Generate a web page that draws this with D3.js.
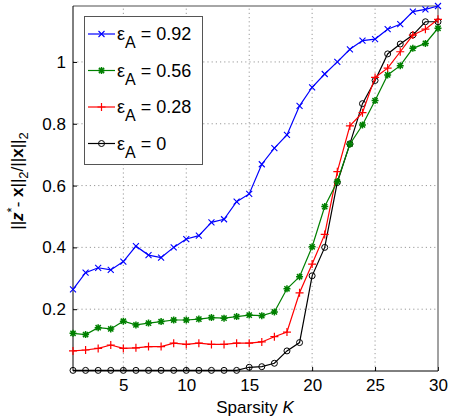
<!DOCTYPE html>
<html>
<head>
<meta charset="utf-8">
<script src="https://cdn.jsdelivr.net/npm/d3@7"></script>
<style>
  body { margin: 0; background: #fff; }
  svg { display: block; font-family: "Liberation Sans", Arial, sans-serif; }
  .grid line { stroke: #808080; stroke-width: 0.8; stroke-dasharray: 1.2, 3; }
</style>
</head>
<body>
<svg id="chart" width="450" height="419"></svg>
<script>
const sparsity = d3.range(1, 31);
const xTicks = [5, 10, 15, 20, 25, 30];
const yTicks = [0.2, 0.4, 0.6, 0.8, 1];

const eps092 = [0.264, 0.318, 0.334, 0.327, 0.354, 0.404, 0.375, 0.367, 0.400, 0.427,
                0.438, 0.481, 0.491, 0.548, 0.573, 0.669, 0.721, 0.764, 0.858, 0.918,
                0.961, 1.000, 1.041, 1.069, 1.074, 1.106, 1.122, 1.163, 1.170, 1.181];
const eps056 = [0.122, 0.118, 0.140, 0.136, 0.161, 0.149, 0.155, 0.160, 0.165, 0.165,
                0.168, 0.173, 0.171, 0.176, 0.181, 0.179, 0.191, 0.266, 0.305, 0.402,
                0.532, 0.613, 0.734, 0.796, 0.875, 0.958, 0.988, 1.044, 1.060, 1.109];
const eps028 = [0.065, 0.068, 0.073, 0.084, 0.073, 0.075, 0.079, 0.079, 0.090, 0.086,
                0.090, 0.086, 0.086, 0.090, 0.090, 0.094, 0.111, 0.126, 0.253, 0.346,
                0.442, 0.645, 0.793, 0.836, 0.950, 0.980, 1.033, 1.087, 1.106, 1.138];
const eps000 = [0.002, 0.002, 0.002, 0.002, 0.002, 0.002, 0.002, 0.002, 0.002, 0.002,
                0.002, 0.002, 0.002, 0.002, 0.012, 0.014, 0.025, 0.065, 0.092, 0.308,
                0.400, 0.610, 0.735, 0.865, 0.940, 1.026, 1.058, 1.087, 1.130, 1.130];

const series = [
  { label: '0.92', values: eps092, color: '#0000ff', marker: 'x' },
  { label: '0.56', values: eps056, color: '#008000', marker: 'star' },
  { label: '0.28', values: eps028, color: '#ff0000', marker: 'plus' },
  { label: '0', values: eps000, color: '#000000', marker: 'circle' }
];

const margin = { left: 73, right: 12, top: 6, bottom: 48 };
const width = 450, height = 419;

const svg = d3.select('#chart');
const x = d3.scaleLinear().domain([1, 30]).range([margin.left, width - margin.right]);
const y = d3.scaleLinear().domain([0, 1.181]).range([height - margin.bottom, margin.top]);

const x0 = x.range()[0], x1 = x.range()[1];
const y0 = y.range()[0], y1 = y.range()[1];

// grid
const grid = svg.append('g').attr('class', 'grid');
grid.selectAll('.gx').data(xTicks.filter(d => d < 30)).enter().append('line')
  .attr('x1', d => x(d)).attr('x2', d => x(d)).attr('y1', y0).attr('y2', y1);
grid.selectAll('.gy').data(yTicks).enter().append('line')
  .attr('y1', d => y(d)).attr('y2', d => y(d)).attr('x1', x0).attr('x2', x1);

// axes
const xAxis = d3.axisBottom(x).tickValues(xTicks).tickSize(-4).tickPadding(8);
const yAxis = d3.axisLeft(y).tickValues(yTicks).tickSize(-4).tickPadding(7).tickFormat(d3.format('~g'));

svg.append('g').attr('transform', `translate(0,${y0})`).call(xAxis)
  .call(g => g.select('.domain').remove())
  .selectAll('text').attr('font-size', 17).attr('fill', '#000').attr('font-family', 'Liberation Sans, Arial, sans-serif');
svg.append('g').attr('transform', `translate(${x0},0)`).call(yAxis)
  .call(g => g.select('.domain').remove())
  .selectAll('text').attr('font-size', 17).attr('fill', '#000').attr('font-family', 'Liberation Sans, Arial, sans-serif');

svg.selectAll('.tick line').attr('stroke', '#000');

// box
svg.append('line').attr('x1', x0).attr('x2', x1).attr('y1', y1).attr('y2', y1).attr('stroke', '#888').attr('stroke-width', 1.5);
svg.append('line').attr('x1', x1).attr('x2', x1).attr('y1', y1).attr('y2', y0).attr('stroke', '#444').attr('stroke-width', 1);
svg.append('line').attr('x1', x0).attr('x2', x1).attr('y1', y0).attr('y2', y0).attr('stroke', '#000').attr('stroke-width', 1);
svg.append('line').attr('x1', x0).attr('x2', x0).attr('y1', y1).attr('y2', y0).attr('stroke', '#000').attr('stroke-width', 1);

function drawMarker(g, type, color) {
  if (type === 'x') {
    g.append('path').attr('d', 'M-3,-3L3,3M-3,3L3,-3').attr('stroke', color).attr('stroke-width', 1.1).attr('fill', 'none');
  } else if (type === 'plus') {
    g.append('path').attr('d', 'M-4,0L4,0M0,-4L0,4').attr('stroke', color).attr('stroke-width', 1.2).attr('fill', 'none');
  } else if (type === 'star') {
    g.append('path').attr('d', 'M-3.5,0L3.5,0M0,-3.5L0,3.5M-2.6,-2.6L2.6,2.6M-2.6,2.6L2.6,-2.6')
      .attr('stroke', color).attr('stroke-width', 1.5).attr('fill', 'none');
  } else if (type === 'circle') {
    g.append('circle').attr('r', 3).attr('stroke', color).attr('stroke-width', 1).attr('fill', 'none');
  }
}

const line = d3.line().x((d, i) => x(sparsity[i])).y(d => y(d));

const plot = svg.append('g');
series.slice().reverse().forEach(s => {
  plot.append('path').datum(s.values).attr('d', line)
    .attr('fill', 'none').attr('stroke', s.color).attr('stroke-width', 1.2);
  s.values.forEach((v, i) => {
    const g = plot.append('g').attr('transform', `translate(${x(sparsity[i])},${y(v)})`);
    drawMarker(g, s.marker, s.color);
  });
});

// legend
const legend = svg.append('g');
legend.append('rect').attr('x', 84.5).attr('y', 16.5).attr('width', 118).attr('height', 148)
  .attr('fill', '#fff').attr('stroke', '#555').attr('stroke-width', 1);
series.forEach((s, i) => {
  const cy = 34 + i * 36.5;
  const row = legend.append('g').attr('transform', `translate(0,${cy})`);
  row.append('line').attr('x1', 88).attr('x2', 115).attr('y1', 0).attr('y2', 0)
    .attr('stroke', s.color).attr('stroke-width', 1.2);
  drawMarker(row.append('g').attr('transform', 'translate(101.5,0)'), s.marker, s.color);
  const t = row.append('text').attr('x', 117).attr('y', 6).attr('font-size', 18).attr('fill', '#000');
  t.append('tspan').text('\u03b5');
  t.append('tspan').attr('dy', 8).attr('font-size', 16).text('A');
  t.append('tspan').attr('dy', -8).text(' = ' + s.label);
});

// x label
const xl = svg.append('text').attr('x', 255).attr('y', 413).attr('text-anchor', 'middle')
  .attr('font-size', 17).attr('fill', '#000');
xl.append('tspan').text('Sparsity ');
xl.append('tspan').attr('font-style', 'italic').text('K');

// y label
const yl = svg.append('text').attr('transform', 'translate(23,181) rotate(-90)')
  .attr('text-anchor', 'middle').attr('font-size', 17).attr('fill', '#000');
yl.append('tspan').text('||');
yl.append('tspan').attr('font-weight', 'bold').attr('font-style', 'italic').text('z');
yl.append('tspan').attr('dy', -7).attr('font-size', 13).text('*');
yl.append('tspan').attr('dy', 7).text('- ');
yl.append('tspan').attr('font-weight', 'bold').text('x');
yl.append('tspan').text('||');
yl.append('tspan').attr('dy', 5).attr('font-size', 13).text('2');
yl.append('tspan').attr('dy', -5).text('/||');
yl.append('tspan').attr('font-weight', 'bold').text('x');
yl.append('tspan').text('||');
yl.append('tspan').attr('dy', 5).attr('font-size', 13).text('2');
</script>
</body>
</html>
